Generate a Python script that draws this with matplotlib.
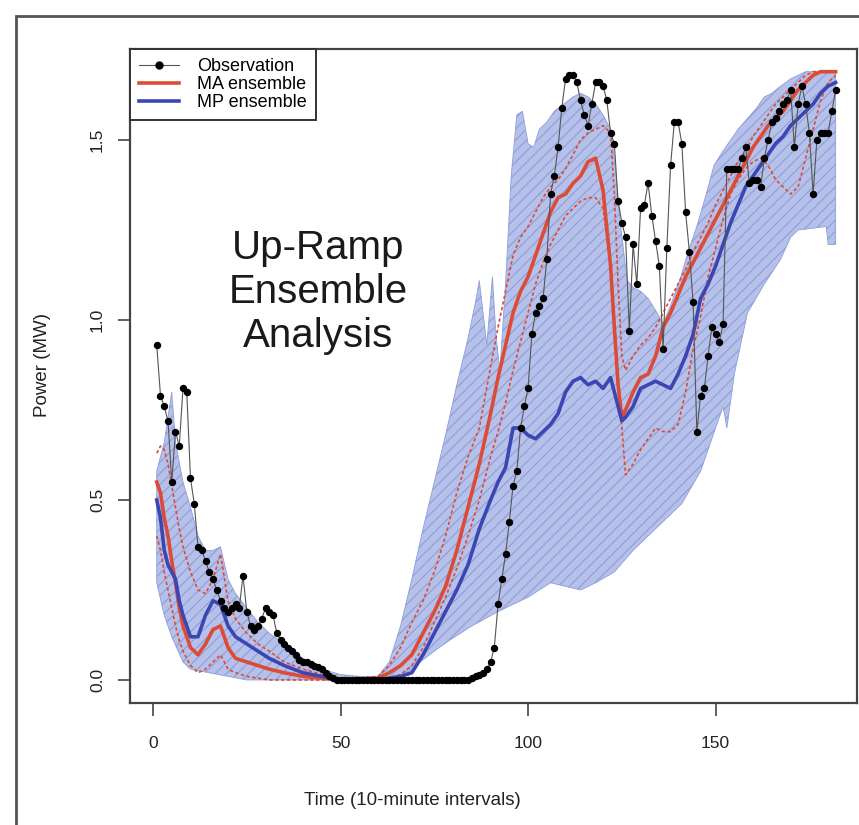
import matplotlib.pyplot as plt
from matplotlib.lines import Line2D
from matplotlib.patches import Polygon, Rectangle

plt.rcParams['font.family'] = ['Liberation Sans', 'DejaVu Sans']
plt.rcParams['hatch.linewidth'] = 0.8

# ---------------- data ----------------

time = list(range(1, 183))

observation = [
    0.93, 0.79, 0.76, 0.72, 0.55, 0.69, 0.65, 0.81, 0.80, 0.56,
    0.49, 0.37, 0.36, 0.33, 0.30, 0.28, 0.25, 0.22, 0.20, 0.19,
    0.20, 0.21, 0.20, 0.29, 0.19, 0.15, 0.14, 0.15, 0.17, 0.20,
    0.19, 0.18, 0.13, 0.11, 0.10, 0.09, 0.08, 0.07, 0.055, 0.05,
    0.05, 0.045, 0.04, 0.037, 0.03, 0.02, 0.01, 0.005, 0.0, 0.0,
    0.0, 0.0, 0.0, 0.0, 0.0, 0.0, 0.0, 0.0, 0.0, 0.0,
    0.0, 0.0, 0.0, 0.0, 0.0, 0.0, 0.0, 0.0, 0.0, 0.0,
    0.0, 0.0, 0.0, 0.0, 0.0, 0.0, 0.0, 0.0, 0.0, 0.0,
    0.0, 0.0, 0.0, 0.0, 0.005, 0.01, 0.015, 0.02, 0.03, 0.05,
    0.09, 0.21, 0.28, 0.35, 0.44, 0.54, 0.58, 0.70, 0.76, 0.81,
    0.96, 1.02, 1.04, 1.06, 1.17, 1.35, 1.40, 1.48, 1.59, 1.67,
    1.68, 1.68, 1.66, 1.61, 1.57, 1.54, 1.60, 1.66, 1.66, 1.65,
    1.61, 1.52, 1.49, 1.33, 1.27, 1.23, 0.97, 1.21, 1.10, 1.31,
    1.32, 1.38, 1.29, 1.22, 1.15, 0.92, 1.20, 1.43, 1.55, 1.55,
    1.49, 1.30, 1.19, 1.05, 0.69, 0.79, 0.81, 0.90, 0.98, 0.96,
    0.94, 0.99, 1.42, 1.42, 1.42, 1.42, 1.45, 1.48, 1.38, 1.39,
    1.39, 1.37, 1.45, 1.50, 1.55, 1.56, 1.58, 1.60, 1.61, 1.64,
    1.48, 1.60, 1.65, 1.60, 1.52, 1.35, 1.50, 1.52, 1.52, 1.52,
    1.58, 1.64,
]

# MP ensemble range (shaded band)
band_t_hi = [1, 3, 5, 6, 8, 10, 12, 14, 16, 18, 20, 22, 25, 28, 31, 35, 40, 45, 50, 55,
             60, 63, 66, 69, 72, 75, 78, 81, 84, 86, 87, 89, 90.5, 91.5, 92.5, 94, 95.5, 97, 98.5, 100,
             101.5, 103, 105, 107, 109.5, 112, 114, 116, 118, 120, 122, 123, 124.6, 126.4, 128, 130, 132, 134.4, 136, 138,
             140.7, 143, 145, 147.5, 149.6, 152, 154, 156, 158.5, 161, 163, 165, 167.4, 170, 172, 174, 176, 178, 180, 182]
band_hi = [0.58, 0.66, 0.80, 0.66, 0.55, 0.48, 0.40, 0.36, 0.36, 0.37, 0.28, 0.24, 0.20, 0.16, 0.13, 0.10, 0.06, 0.03, 0.015, 0.01,
           0.01, 0.05, 0.15, 0.28, 0.42, 0.55, 0.68, 0.82, 0.95, 1.05, 1.11, 0.93, 1.12, 0.95, 0.86, 1.10, 1.40, 1.57, 1.58, 1.49,
           1.48, 1.53, 1.55, 1.58, 1.60, 1.62, 1.63, 1.62, 1.60, 1.57, 1.53, 1.45, 1.27, 1.11, 1.09, 1.08, 1.06, 1.02, 0.99, 1.04,
           1.12, 1.20, 1.26, 1.35, 1.43, 1.47, 1.50, 1.53, 1.56, 1.59, 1.62, 1.63, 1.65, 1.67, 1.68, 1.69, 1.69, 1.69, 1.69, 1.69]

band_t_lo = [1, 3, 5, 8, 10, 15, 20, 25, 60, 66, 70, 75, 79, 85, 92, 100, 106, 114, 118, 123,
             128, 132, 136, 141, 146, 150, 152, 153, 155, 158.5, 163, 167.4, 170, 172, 179.5, 180, 182]
band_lo = [0.27, 0.18, 0.12, 0.05, 0.03, 0.02, 0.01, 0.0, 0.0, 0.0, 0.04, 0.08, 0.11, 0.15, 0.19, 0.23, 0.27, 0.25, 0.27, 0.30,
           0.36, 0.40, 0.44, 0.49, 0.58, 0.70, 0.76, 0.70, 0.85, 1.02, 1.10, 1.17, 1.23, 1.25, 1.26, 1.21, 1.21]

# ensemble curves
t_ens = [1, 2, 3, 4, 5, 6, 7, 8, 10, 12,
         14, 16, 18, 20, 22, 25, 28, 31, 35, 40,
         45, 50, 55, 60, 63, 66, 69, 72, 75, 78,
         81, 84, 87, 90, 92, 94, 96, 98, 100, 102,
         104, 106, 108, 110, 112, 114, 116, 118, 120, 122,
         123, 124, 125, 126, 128, 130, 132, 134, 136, 138,
         140, 142, 144, 146, 148, 150, 152, 154, 156, 158,
         160, 162, 164, 166, 168, 170, 172, 174, 176, 178,
         180, 182]

ma_mean = [0.55, 0.52, 0.45, 0.40, 0.33, 0.27, 0.20, 0.15, 0.09, 0.07,
           0.10, 0.14, 0.15, 0.09, 0.06, 0.05, 0.04, 0.03, 0.02, 0.01,
           0.005, 0.0, 0.0, 0.005, 0.02, 0.04, 0.07, 0.13, 0.19, 0.26,
           0.36, 0.48, 0.60, 0.74, 0.84, 0.93, 1.02, 1.08, 1.12, 1.18,
           1.24, 1.30, 1.34, 1.35, 1.38, 1.40, 1.44, 1.45, 1.36, 1.15,
           0.98, 0.82, 0.73, 0.75, 0.80, 0.84, 0.85, 0.90, 0.98, 1.02,
           1.07, 1.12, 1.16, 1.20, 1.24, 1.28, 1.32, 1.36, 1.40, 1.44,
           1.48, 1.51, 1.54, 1.56, 1.58, 1.61, 1.64, 1.66, 1.68, 1.69,
           1.69, 1.69]

ma_hi = [0.63, 0.65, 0.64, 0.60, 0.54, 0.48, 0.42, 0.37, 0.30, 0.25,
         0.24, 0.28, 0.35, 0.22, 0.17, 0.13, 0.10, 0.08, 0.05, 0.03,
         0.015, 0.005, 0.005, 0.01, 0.04, 0.09, 0.16, 0.22, 0.30, 0.40,
         0.52, 0.62, 0.70, 0.87, 0.98, 1.08, 1.18, 1.23, 1.26, 1.30,
         1.34, 1.37, 1.39, 1.42, 1.46, 1.50, 1.52, 1.53, 1.54, 1.52,
         1.35, 1.10, 0.90, 0.86, 0.90, 0.93, 0.95, 0.98, 1.02, 1.06,
         1.10, 1.14, 1.19, 1.23, 1.27, 1.32, 1.36, 1.40, 1.44, 1.47,
         1.51, 1.54, 1.57, 1.60, 1.62, 1.64, 1.66, 1.68, 1.69, 1.69,
         1.69, 1.69]

ma_lo = [0.40, 0.36, 0.30, 0.25, 0.20, 0.15, 0.11, 0.08, 0.04, 0.02,
         0.03, 0.05, 0.07, 0.03, 0.02, 0.01, 0.005, 0.0, 0.0, 0.0,
         0.0, 0.0, 0.0, 0.0, 0.005, 0.015, 0.04, 0.09, 0.16, 0.23,
         0.31, 0.40, 0.50, 0.62, 0.69, 0.77, 0.86, 0.94, 1.02, 1.10,
         1.16, 1.21, 1.25, 1.29, 1.31, 1.33, 1.34, 1.34, 1.31, 1.15,
         1.00, 0.84, 0.70, 0.57, 0.60, 0.64, 0.67, 0.70, 0.69, 0.69,
         0.71, 0.80, 0.92, 1.01, 1.12, 1.20, 1.28, 1.35, 1.39, 1.42,
         1.44, 1.45, 1.43, 1.39, 1.37, 1.35, 1.37, 1.45, 1.53, 1.61,
         1.66, 1.68]

mp_mean = [0.50, 0.45, 0.36, 0.32, 0.30, 0.28, 0.22, 0.18, 0.12, 0.12,
           0.18, 0.22, 0.21, 0.15, 0.12, 0.10, 0.08, 0.06, 0.04, 0.02,
           0.01, 0.0, 0.0, 0.0, 0.005, 0.01, 0.02, 0.07, 0.13, 0.19,
           0.25, 0.32, 0.42, 0.50, 0.55, 0.59, 0.70, 0.70, 0.68, 0.67,
           0.69, 0.71, 0.74, 0.80, 0.83, 0.84, 0.82, 0.83, 0.81, 0.84,
           0.80, 0.76, 0.72, 0.73, 0.76, 0.81, 0.82, 0.83, 0.82, 0.81,
           0.85, 0.90, 0.96, 1.06, 1.10, 1.15, 1.21, 1.27, 1.32, 1.37,
           1.40, 1.43, 1.46, 1.49, 1.51, 1.54, 1.56, 1.58, 1.60, 1.63,
           1.65, 1.66]

legend_labels = ["Observation", "MA ensemble", "MP ensemble"]
x_ticks = [0, 50, 100, 150]
y_ticks = [0.0, 0.5, 1.0, 1.5]

red = "#dc4b35"
blue = "#3c46b2"

# ---------------- figure ----------------

fig = plt.figure(figsize=(8.59, 8.25), dpi=100)

# outer frame of the picture
fig.add_artist(Rectangle((16 / 859, -0.1), 1.2, 1.1 - 16 / 825,
                         transform=fig.transFigure, fill=False,
                         edgecolor="#555555", linewidth=2))

ax = fig.add_axes([130 / 859, 122 / 825, 727 / 859, 654 / 825])

band_x = band_t_hi + band_t_lo[::-1]
band_y = band_hi + band_lo[::-1]
ax.add_patch(Polygon(list(zip(band_x, band_y)), closed=True,
                     facecolor="#b6c1ea", edgecolor="#8e9dda",
                     hatch="///", linewidth=0.6, zorder=1))

ax.plot(t_ens, ma_hi, color=red, lw=1.2, ls=(0, (2, 1.5)), zorder=2)
ax.plot(t_ens, ma_lo, color=red, lw=1.2, ls=(0, (2, 1.5)), zorder=2)
ax.plot(t_ens, ma_mean, color=red, lw=2.6, zorder=3)
ax.plot(t_ens, mp_mean, color=blue, lw=2.6, zorder=4)
ax.plot(time, observation, color="#555555", lw=0.8, marker="o", ms=4.3,
        mfc="black", mec="black", zorder=5)

ax.set_xlim(-6.13, 187.7)
ax.set_ylim(-0.064, 1.753)

ax.set_xticks(x_ticks)
ax.set_xticklabels([str(v) for v in x_ticks], fontsize=12.5)
ax.set_yticks(y_ticks)
ax.set_yticklabels(["%.1f" % v for v in y_ticks], fontsize=12.5,
                   rotation=90, va="center")
ax.tick_params(axis="x", direction="out", length=9, width=1.2,
               color="#444444", pad=15, labelcolor="#222222")
ax.tick_params(axis="y", direction="out", length=9, width=1.2,
               color="#444444", pad=9, labelcolor="#222222")

for s in ax.spines.values():
    s.set_color("#444444")
    s.set_linewidth(1.6)

ax.set_xlabel("Time (10-minute intervals)", fontsize=13.5, color="#222222")
ax.xaxis.set_label_coords(0.388, -0.136)
ax.set_ylabel("Power (MW)", fontsize=13.5, color="#222222")
ax.yaxis.set_label_coords(-0.108, 0.517)

handles = [
    Line2D([], [], color="#555555", lw=0.8, marker="o", ms=5,
           mfc="black", mec="black"),
    Line2D([], [], color=red, lw=2.6),
    Line2D([], [], color=blue, lw=2.6),
]
leg = ax.legend(handles, legend_labels, loc="upper left",
                borderaxespad=0, fontsize=13, fancybox=False,
                framealpha=1, edgecolor="#333333", handlelength=2.2,
                handletextpad=1.0, labelspacing=0.05, borderpad=0.5)
leg.get_frame().set_linewidth(1.4)

fig.text(318 / 859, 1 - 292 / 825, "Up-Ramp\nEnsemble\nAnalysis",
         ha="center", va="center", fontsize=29, linespacing=1.2,
         color="#1a1a1a")

fig.savefig("out.png", dpi=100)
